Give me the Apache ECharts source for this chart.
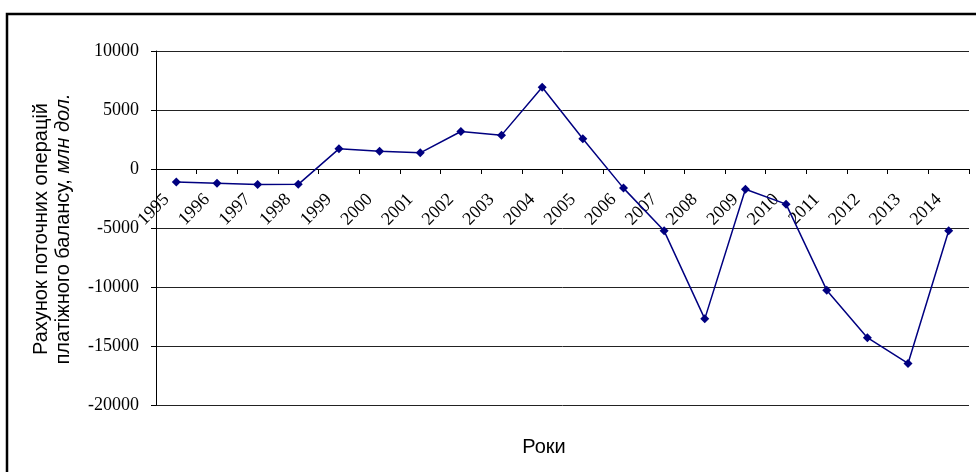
<!DOCTYPE html>
<html>
<head>
<meta charset="utf-8">
<script src="https://cdn.jsdelivr.net/npm/echarts@6/dist/echarts.min.js"></script>
<style>html,body{margin:0;padding:0;background:#fff;}#c{width:976px;height:472px;}</style>
</head>
<body>
<div id="c"></div>
<script>
const years = ['1995','1996','1997','1998','1999','2000','2001','2002','2003','2004','2005','2006','2007','2008','2009','2010','2011','2012','2013','2014'];
const balance = [-1100,-1200,-1310,-1300,1710,1510,1370,3180,2870,6930,2560,-1620,-5240,-12700,-1710,-2980,-10270,-14300,-16480,-5240];
const yTicks = {min:-20000, max:10000, step:5000};
const yTitle1 = 'Рахунок поточних операцій';
const yTitle2 = 'платіжного балансу, ';
const yTitleItalic = 'млн дол.';
const xTitle = 'Роки';

const chart = echarts.init(document.getElementById('c'), null, {renderer:'canvas'});
const gridTop = 51, gridBottom = 67, gridH = 472 - gridTop - gridBottom;
const zeroOffset = -gridH * (0 - yTicks.min) / (yTicks.max - yTicks.min);
chart.setOption({
  animation:false,
  backgroundColor:'#fff',
  grid:{left:156, right:7, top:gridTop, bottom:gridBottom, containLabel:false},
  xAxis:{
    type:'category', data:years, boundaryGap:true, position:'bottom', offset:zeroOffset,
    axisLine:{show:true, onZero:false, lineStyle:{color:'#000', width:1}},
    axisTick:{show:true, length:5, interval:0, lineStyle:{color:'#000'}},
    axisLabel:{interval:0, rotate:45, margin:18, padding:[0,14,0,0], color:'#000', fontFamily:'Liberation Serif', fontSize:18, hideOverlap:false},
    splitLine:{show:false}
  },
  yAxis:{
    type:'value', min:yTicks.min, max:yTicks.max, interval:yTicks.step,
    axisLine:{show:true, lineStyle:{color:'#000', width:1}},
    axisTick:{show:true, length:5, lineStyle:{color:'#000'}},
    axisLabel:{margin:17, color:'#000', fontFamily:'Liberation Serif', fontSize:18, formatter:function(v){return String(v);}},
    splitLine:{show:true, lineStyle:{color:'#222', width:1}}
  },
  series:[{
    type:'line', data:balance,
    lineStyle:{color:'#000080', width:1.5},
    itemStyle:{color:'#000080'},
    symbol:'diamond', symbolSize:9, showSymbol:true
  }],
  graphic:[
    {type:'rect', shape:{x:7, y:14, width:1000, height:500}, style:{fill:'none', stroke:'#000', lineWidth:2.5}, silent:true},
    {type:'text', x:544, y:447, style:{text:xTitle, fontFamily:'Liberation Sans', fontSize:20, fill:'#000', textAlign:'center', textVerticalAlign:'middle'}},
    {type:'text', x:52, y:229, rotation:Math.PI/2, style:{
      text:'{a|'+yTitle1+'}\n{a|'+yTitle2+'}{b|'+yTitleItalic+'}',
      textAlign:'center', textVerticalAlign:'middle', fill:'#000',
      rich:{
        a:{fontFamily:'Liberation Sans', fontSize:20, lineHeight:22, fill:'#000'},
        b:{fontFamily:'Liberation Sans', fontSize:20, fontStyle:'italic', lineHeight:22, fill:'#000'}
      }
    }}
  ]
});
</script>
</body>
</html>
